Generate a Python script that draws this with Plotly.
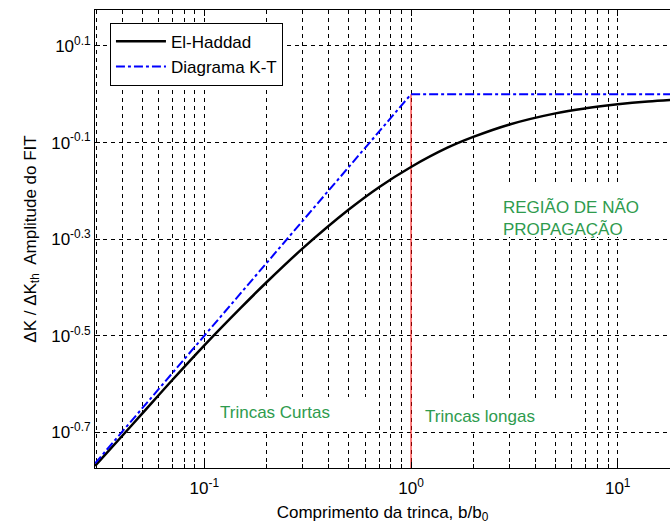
import numpy as np
import plotly.graph_objects as go

# ---- data ----
x_elhaddad = [0.0296, 0.04, 0.05, 0.07, 0.1, 0.15, 0.2, 0.3, 0.5, 0.7, 1.0,
              1.5, 2.0, 3.0, 5.0, 7.0, 10.0, 14.0, 20.0]
y_elhaddad = [0.170, 0.196, 0.218, 0.256, 0.302, 0.361, 0.408, 0.480, 0.577,
              0.642, 0.707, 0.775, 0.816, 0.866, 0.913, 0.935, 0.953, 0.966, 0.976]

x_kt = [0.0296, 1.0, 20.0]
y_kt = [0.172, 1.0, 1.0]

x_limit = [1.0, 1.0]
y_limit = [0.168, 1.0]

x_major = [0.1, 1.0, 10.0]
x_major_labels = ["10<sup>-1</sup>", "10<sup>0</sup>", "10<sup>1</sup>"]
y_exponents = [-0.7, -0.5, -0.3, -0.1, 0.1]
y_tick_labels = ["10<sup>-0.7</sup>", "10<sup>-0.5</sup>", "10<sup>-0.3</sup>",
                 "10<sup>-0.1</sup>", "10<sup>0.1</sup>"]

FONT = "Arial, Liberation Sans, sans-serif"
GREEN = "#2e9b4e"

fig = go.Figure()
fig.add_trace(go.Scatter(x=x_limit, y=y_limit, mode="lines",
                         line=dict(color="red", width=1), showlegend=False,
                         hoverinfo="skip"))
fig.add_trace(go.Scatter(x=x_elhaddad, y=y_elhaddad, mode="lines", name="El-Haddad",
                         line=dict(color="black", width=2.5, shape="spline")))
fig.add_trace(go.Scatter(x=x_kt, y=y_kt, mode="lines", name="Diagrama K-T",
                         line=dict(color="blue", width=2, dash="9px,3px,3px,3px")))

minor_x = [m * 10.0 ** d for d in (-2, -1, 0, 1) for m in range(2, 10)]
minor_x = [v for v in minor_x if v not in x_major]

grid_common = dict(showgrid=True, gridcolor="black", gridwidth=1, griddash="4px,4px")

fig.update_xaxes(type="log", range=[-1.529, 1.253],
                 tickvals=x_major, ticktext=x_major_labels,
                 ticks="inside", ticklen=6, tickcolor="black",
                 showline=True, linecolor="black", linewidth=1, mirror="ticks",
                 zeroline=False, ticklabelstandoff=5,
                 tickfont=dict(family=FONT, size=17, color="black"),
                 title=dict(text="Comprimento da trinca, b/b<sub>0</sub>",
                            font=dict(family=FONT, size=17, color="black"), standoff=8),
                 minor=dict(tickvals=minor_x, ticks="inside", ticklen=4,
                            tickcolor="black", **grid_common),
                 **grid_common)

fig.update_yaxes(type="log", range=[-0.774, 0.1745],
                 tickvals=[10 ** e for e in y_exponents], ticktext=y_tick_labels,
                 ticks="inside", ticklen=5, tickcolor="black",
                 showline=True, linecolor="black", linewidth=1, mirror=False,
                 zeroline=False,
                 tickfont=dict(family=FONT, size=17, color="black"),
                 title=dict(text="\u0394K / \u0394K<sub>th</sub>  Amplitude do FIT",
                            font=dict(family=FONT, size=17, color="black"), standoff=10),
                 **grid_common)

# white backgrounds behind the region labels (hide the grid there)
for x0, x1, y0, y1 in [(0.1965, 0.4904, 0.0808, 0.155),
                       (0.5565, 0.852, 0.0808, 0.1528),
                       (0.6696, 0.9652, 0.5044, 0.6179)]:
    fig.add_shape(type="rect", xref="paper", yref="paper",
                  x0=x0, x1=x1, y0=y0, y1=y1,
                  fillcolor="white", line=dict(width=0), layer="above")

anno_font = dict(family=FONT, size=17, color=GREEN)
fig.add_annotation(x=np.log10(0.1165), y=-0.659, xref="x", yref="y",
                   text="Trincas Curtas", showarrow=False, xanchor="left",
                   yanchor="middle", font=anno_font)
fig.add_annotation(x=np.log10(1.14), y=-0.667, xref="x", yref="y",
                   text="Trincas longas", showarrow=False, xanchor="left",
                   yanchor="middle", font=anno_font)
fig.add_annotation(x=np.log10(2.73), y=-0.257, xref="x", yref="y",
                   text="REGIÃO DE NÃO<br>PROPAGAÇÃO", showarrow=False,
                   xanchor="left", yanchor="middle", align="left", font=anno_font)

fig.update_layout(
    width=670, height=525,
    margin=dict(l=95, r=0, t=10, b=57),
    paper_bgcolor="white", plot_bgcolor="white",
    font=dict(family=FONT, size=17, color="black"),
    legend=dict(x=0.026, y=0.972, xanchor="left", yanchor="top",
                bgcolor="white", bordercolor="black", borderwidth=1,
                font=dict(family=FONT, size=17, color="black"),
                itemwidth=50),
)

fig.write_html("out.html")
